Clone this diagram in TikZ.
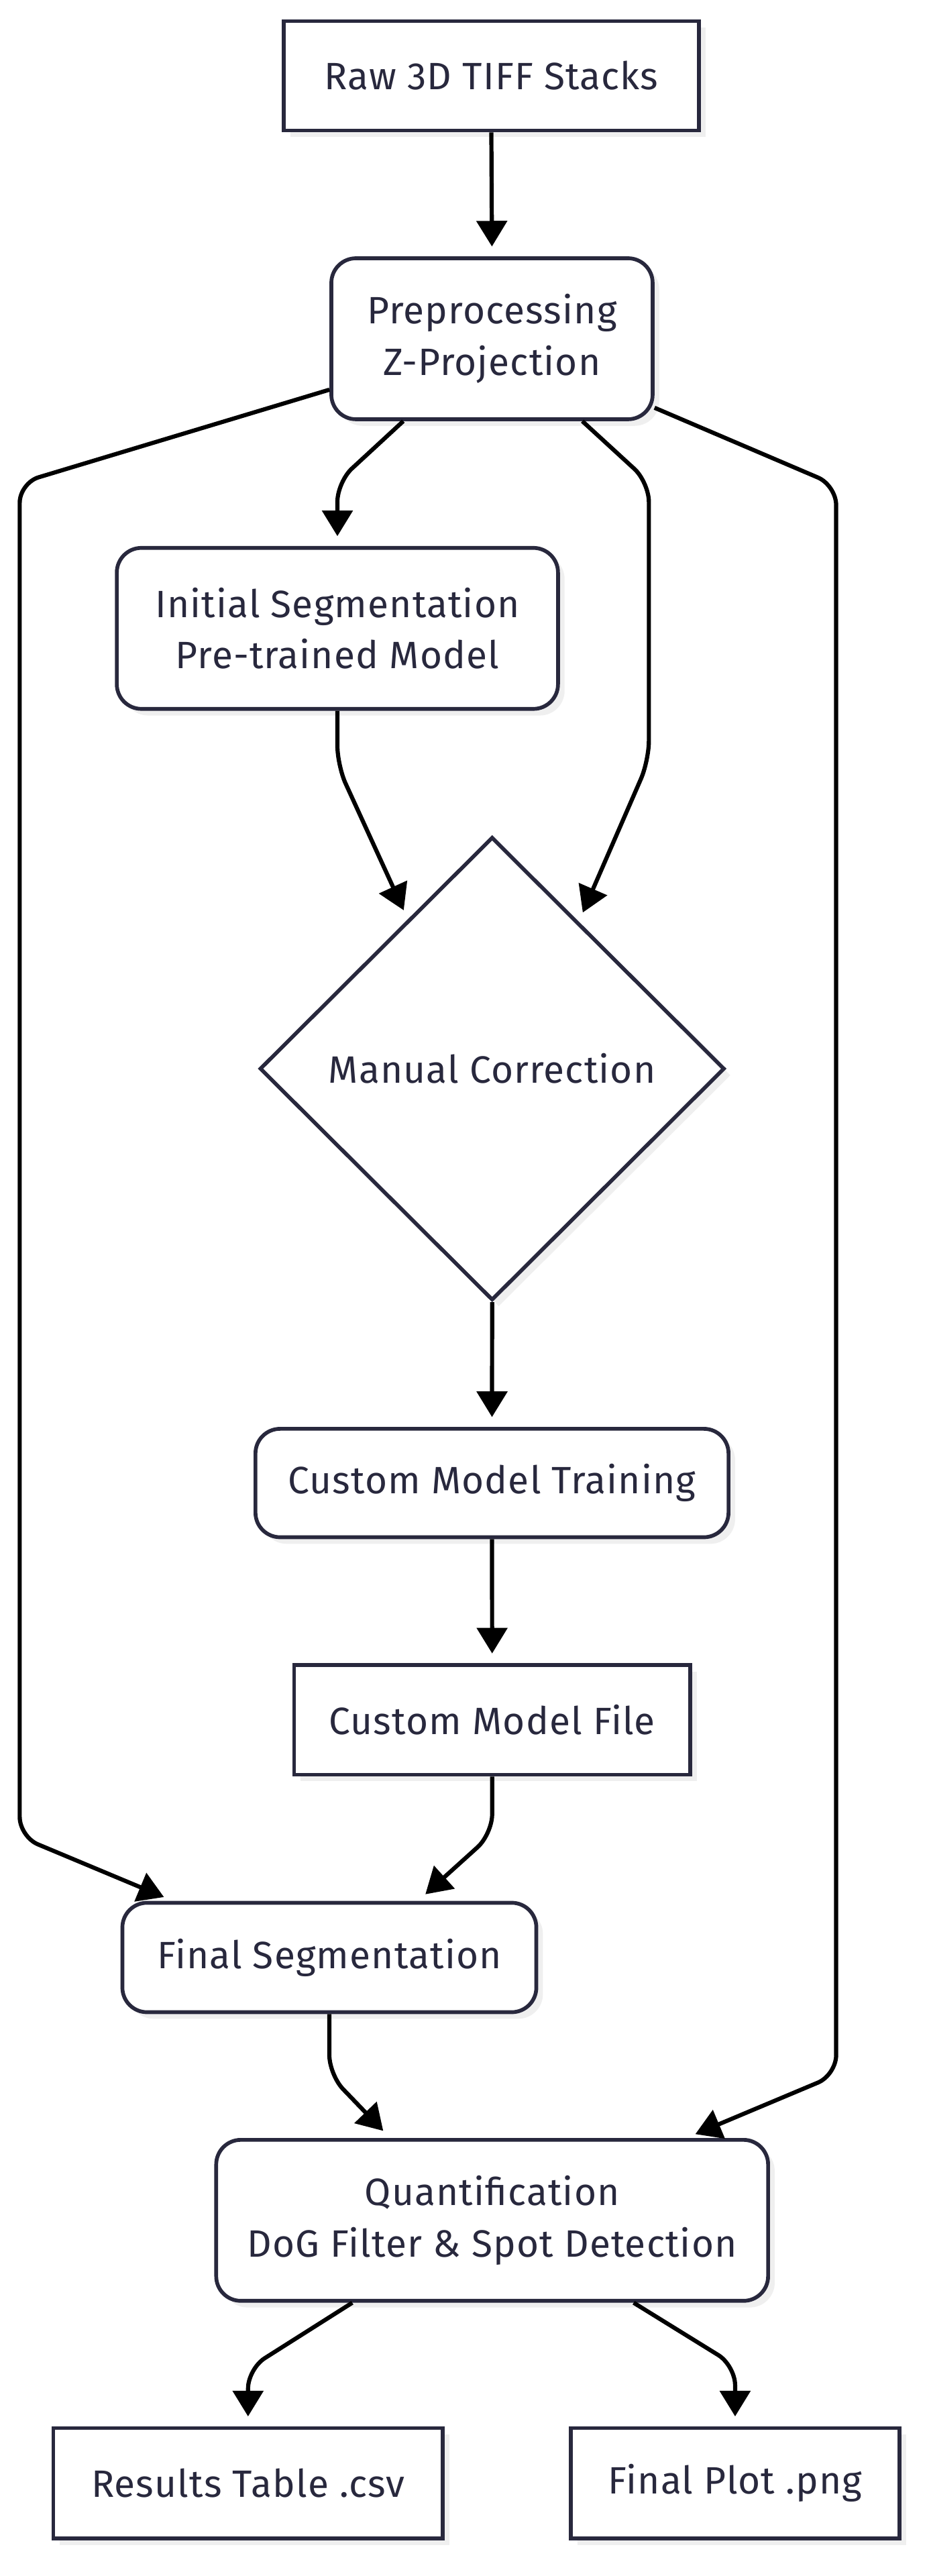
\documentclass[tikz,border=0pt]{standalone}
\usepackage{fontspec}
\setmainfont{Fira Sans}[LetterSpace=2]
\usetikzlibrary{arrows.meta,shapes.geometric,shadows,calc}
\definecolor{ink}{HTML}{28283D}
\definecolor{shade}{HTML}{EFEFEF}

\begin{document}
\begin{tikzpicture}[x=0.05cm,y=-0.05cm]
	\tikzstyle{every node}+=[inner sep=0pt,text=ink,font=\fontsize{33}{44.5}\selectfont,align=center]
	\tikzstyle{box}=[draw=ink,line width=3.3pt,fill=white,drop shadow={shadow xshift=0.2cm,shadow yshift=-0.2cm,fill=shade,opacity=1}]
	\tikzstyle{sq}=[box,rectangle]
	\tikzstyle{rnd}=[box,rectangle,rounded corners=0.75cm]
	\tikzstyle{flow}=[line width=3.6pt,-{Triangle[length=0.78cm,width=0.92cm]},shorten >=0.3cm,rounded corners=0.6cm]
	\fill [white] (0,0) rectangle (564,1568);
	\useasboundingbox (0,0) rectangle (564,1568);
	\node [sq,minimum width=12.63cm,minimum height=3.33cm] (raw) at (299.1,46.1) {Raw 3D TIFF Stacks};
	\node [rnd,minimum width=9.78cm,minimum height=4.9cm] (pre) at (299.5,206.2) {Preprocessing\\Z-Projection};
	\node [rnd,minimum width=13.43cm,minimum height=4.9cm] (init) at (205.4,382.5) {Initial Segmentation\\Pre-trained Model};
	\node [box,diamond,aspect=1,minimum width=14.15cm,minimum height=14.1cm] (man) at (299.6,650.5) {Manual Correction};
	\node [rnd,minimum width=14.4cm,minimum height=3.3cm] (train) at (299.5,902.7) {Custom Model Training};
	\node [sq,minimum width=12.05cm,minimum height=3.33cm] (file) at (299.6,1046.9) {Custom Model File};
	\node [rnd,minimum width=12.6cm,minimum height=3.33cm] (fseg) at (200.5,1191.5) {Final Segmentation};
	\node [rnd,minimum width=16.8cm,minimum height=4.9cm] (quant) at (299.6,1351.5) {Quantification\\DoG Filter \& Spot Detection};
	\node [sq,minimum width=11.85cm,minimum height=3.35cm] (res) at (151,1511.5) {Results Table .csv};
	\node [sq,minimum width=10cm,minimum height=3.35cm] (plot) at (447.5,1511.5) {Final Plot .png};
	\draw [flow] (raw.south) -- (pre.north);
	\draw [flow] ($(pre.south)+(-54,0)$) -- ($(init.north)+(0,-39)$) -- (init.north);
	\draw [flow] ($(pre.south)+(55,0)$) -- (395,293.5) -- (395,463) -- ($(man.north)!0.37!(man.east)$);
	\draw [flow] (init.south) -- ($(init.south)+(0,33.4)$) -- ($(man.north)!0.36!(man.west)$);
	\draw [flow] ($(pre.west)+(0,31)$) -- (12,294) -- (12,1118) -- ($(fseg.north west)+(32,0)$);
	\draw [flow] ($(pre.east)+(0,42)$) -- (509,295.4) -- (509,1263) -- ($(quant.north east)+(-51,0)$);
	\draw [flow] (man.south) -- (train.north);
	\draw [flow] (train.south) -- (file.north);
	\draw [flow] (file.south) -- ($(file.south)+(0,35)$) -- ($(fseg.north)+(54,0)$);
	\draw [flow] (fseg.south) -- ($(fseg.south)+(0,37)$) -- ($(quant.north west)+(107,0)$);
	\draw [flow] ($(quant.south west)+(84,0)$) -- ($(res.north)+(0,-35)$) -- (res.north);
	\draw [flow] ($(quant.south east)+(-83,0)$) -- ($(plot.north)+(0,-37)$) -- (plot.north);
\end{tikzpicture}
\end{document}
